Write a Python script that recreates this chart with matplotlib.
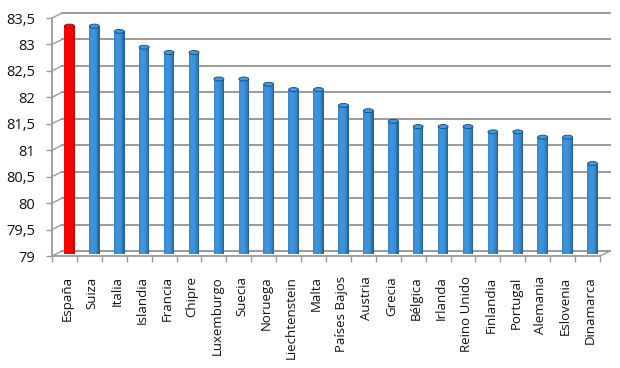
import numpy as np
import matplotlib
matplotlib.use("Agg")
import matplotlib.pyplot as plt
from matplotlib.patches import Ellipse
from matplotlib.transforms import offset_copy, Affine2D
from matplotlib.colors import to_rgb

countries = ["España", "Suiza", "Italia", "Islandia", "Francia", "Chipre",
             "Luxemburgo", "Suecia", "Noruega", "Liechtenstein", "Malta",
             "Países Bajos", "Austria", "Grecia", "Bélgica", "Irlanda",
             "Reino Unido", "Finlandia", "Portugal", "Alemania", "Eslovenia",
             "Dinamarca"]
values = [83.3, 83.3, 83.2, 82.9, 82.8, 82.8, 82.3, 82.3, 82.2, 82.1, 82.1,
          81.8, 81.7, 81.5, 81.4, 81.4, 81.4, 81.3, 81.3, 81.2, 81.2, 80.7]
yticks = [79, 79.5, 80, 80.5, 81, 81.5, 82, 82.5, 83, 83.5]
ytick_labels = ["79", "79,5", "80", "80,5", "81", "81,5", "82", "82,5", "83", "83,5"]
highlight = "España"

plt.rcParams['font.family'] = ['Open Sans', 'DejaVu Sans']

W, H = 620, 368
fig = plt.figure(figsize=(W / 100, H / 100), dpi=100)
L, R, B, T = 52, 600, 256, 18
ax = fig.add_axes([L / W, (H - B) / H, (R - L) / W, (B - T) / H])
n = len(countries)
ax.set_xlim(-0.5, n - 0.5)
ax.set_ylim(79, 83.5)
ax.patch.set_visible(False)

grid_c = '#9a9a9a'
px_x = n / (R - L)
px_y = 4.5 / (B - T)
DX, DY = 10, 5  # depth offset in pixels

for yv in yticks:
    ax.plot([-0.5 + DX * px_x, n - 0.5 + DX * px_x], [yv + DY * px_y] * 2,
            color=grid_c, lw=1.4, clip_on=False, zorder=1)
    ax.plot([-0.5, -0.5 + DX * px_x], [yv, yv + DY * px_y],
            color=grid_c, lw=1.0, clip_on=False, zorder=1)
ax.plot([n - 0.5, n - 0.5 + DX * px_x], [79, 79 + DY * px_y],
        color=grid_c, lw=1.0, clip_on=False, zorder=1)

bar_tr = offset_copy(ax.transData, fig=fig, x=DX / 2, y=DY / 2, units='dots')
bw = 10 * px_x
ns = 12
ts = np.linspace(-1 + 1 / ns, 1 - 1 / ns, ns)
for i, (c, v) in enumerate(zip(countries, values)):
    is_hi = c == highlight
    base = np.array(to_rgb('#ff0000' if is_hi else '#2a7cc2'))
    ax.bar(i, v - 79, bottom=79, width=bw, color=base * 0.7,
           transform=bar_tr, clip_on=False, zorder=3, linewidth=0)
    for t in ts:
        prof = np.sqrt(1 - ((t + 0.25) / 1.25) ** 2) if abs(t + 0.25) < 1.25 else 0
        f = 0.62 + 0.45 * prof
        col = np.clip(base * f + (0.06 * prof if not is_hi else 0), 0, 1)
        ax.bar(i + t * bw / 2, v - 79, bottom=79, width=bw / ns * 1.6, color=col,
               transform=bar_tr, clip_on=False, zorder=3, linewidth=0)
    cap_col = np.clip(base * 1.05 + (0.08 if not is_hi else 0), 0, 1)
    edge_col = base * 0.6
    ax.add_patch(Ellipse((i, v), bw, 4 * px_y, facecolor=cap_col,
                         edgecolor=edge_col, lw=0.6, transform=bar_tr,
                         clip_on=False, zorder=4))

for s in ['top', 'right']:
    ax.spines[s].set_visible(False)
for s in ['left', 'bottom']:
    ax.spines[s].set_color(grid_c)
    ax.spines[s].set_linewidth(1.3)
ax.set_yticks(yticks)
ax.set_yticklabels(ytick_labels, fontsize=10.5, color='#111111')
ax.tick_params(axis='y', length=4, width=1, color=grid_c, pad=8)
ax.set_xticks(np.arange(n))
ax.set_xticklabels(countries, rotation=90, fontsize=9.5, color='#111111',
                   ha='center', va='top')
ax.tick_params(axis='x', which='major', length=0, pad=11)
ax.set_xticks(np.arange(n + 1) - 0.5, minor=True)
ax.tick_params(axis='x', which='minor', length=4, width=1, color=grid_c)
for lab in ax.get_xticklabels():
    lab.set_transform(lab.get_transform() + Affine2D().translate(3, -5))

fig.savefig('out.png', dpi=100)
